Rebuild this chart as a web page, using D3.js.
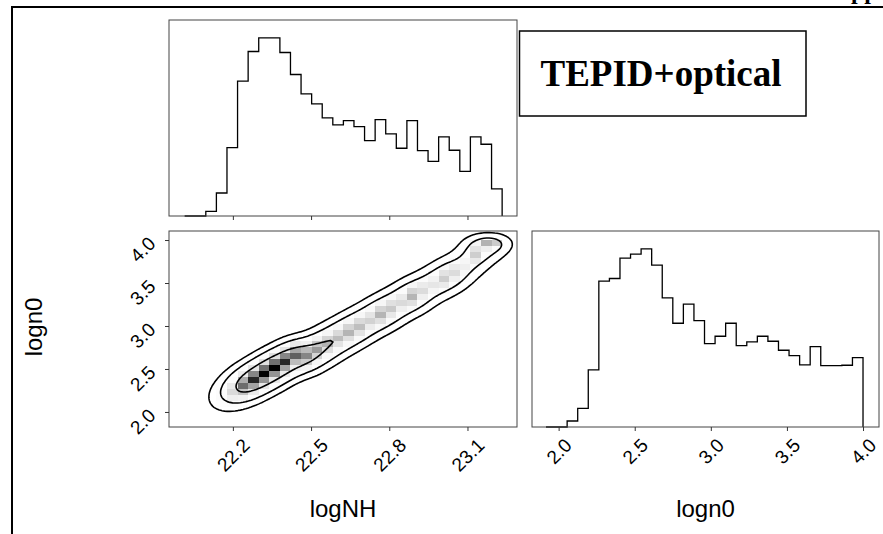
<!DOCTYPE html>
<meta charset="utf-8">
<script src="https://d3js.org/d3.v7.min.js"></script>
<style>
  body { margin: 0; background: #fff; }
  text { font-family: "Liberation Sans", Arial, sans-serif; }
</style>
<svg id="corner" width="883" height="534"></svg>
<script>
// logNH marginal, 30 bins
const nhRange = [22.015, 23.233];
const nhCounts = [0, 0, 14, 69, 205, 404, 493, 534, 534, 490, 424, 366, 336, 294, 273,
                  286, 268, 226, 289, 246, 203, 286, 196, 164, 237, 197, 134, 237, 215, 81];
// logn0 marginal, 30 bins
const n0Range = [1.917, 4.0];
const n0Counts = [0, 0, 18, 56, 171, 437, 445, 506, 518, 534, 485, 387, 311, 368, 319,
                  250, 272, 311, 244, 255, 272, 257, 230, 214, 186, 241, 184, 184, 185, 208];
const nhTicks = [22.2, 22.5, 22.8, 23.1];
const n0Ticks = [2.0, 2.5, 3.0, 3.5, 4.0];
const nhDomain = [21.955, 23.29];
const n0Domain = [1.825, 4.105];
// joint histogram, one entry per logNH bin: first logn0 bin, then densities
// (relative to the darkest cell) going up in logn0
const jointStart = [0, 0, 0, 0, 1, 2, 3, 4, 5, 6, 7, 7, 8, 9, 10,
                    11, 12, 13, 14, 15, 16, 17, 18, 19, 20, 21, 22, 24, 26, 26];
const jointValues = [
  [], [],
  [0.01, 0.02, 0.03, 0.02, 0.01],
  [0.01, 0.04, 0.08, 0.13, 0.10, 0.05, 0.01],
  [0.04, 0.11, 0.25, 0.38, 0.29, 0.13, 0.04],
  [0.08, 0.23, 0.49, 0.76, 0.57, 0.27, 0.08],
  [0.09, 0.28, 0.60, 0.92, 0.69, 0.32, 0.09],
  [0.10, 0.30, 0.65, 1.00, 0.75, 0.35, 0.10],
  [0.10, 0.30, 0.65, 1.00, 0.75, 0.35, 0.10],
  [0.09, 0.28, 0.60, 0.92, 0.69, 0.32, 0.09],
  [0.08, 0.24, 0.51, 0.79, 0.59, 0.28, 0.08],
  [0.07, 0.21, 0.45, 0.69, 0.52, 0.24, 0.07],
  [0.06, 0.19, 0.41, 0.63, 0.47, 0.22, 0.06],
  [0.06, 0.17, 0.36, 0.55, 0.41, 0.19, 0.06],
  [0.05, 0.15, 0.33, 0.51, 0.38, 0.18, 0.05],
  [0.05, 0.16, 0.35, 0.54, 0.41, 0.19, 0.05],
  [0.05, 0.15, 0.33, 0.50, 0.38, 0.18, 0.05],
  [0.04, 0.13, 0.27, 0.42, 0.32, 0.15, 0.04],
  [0.05, 0.16, 0.35, 0.54, 0.41, 0.19, 0.05],
  [0.05, 0.14, 0.30, 0.46, 0.35, 0.16, 0.05],
  [0.04, 0.11, 0.25, 0.38, 0.29, 0.13, 0.04],
  [0.05, 0.16, 0.35, 0.54, 0.41, 0.19, 0.05],
  [0.04, 0.11, 0.24, 0.37, 0.28, 0.13, 0.04],
  [0.03, 0.09, 0.20, 0.31, 0.23, 0.11, 0.03],
  [0.04, 0.13, 0.29, 0.44, 0.33, 0.15, 0.04],
  [0.04, 0.11, 0.24, 0.37, 0.28, 0.13, 0.04],
  [0.03, 0.08, 0.16, 0.25, 0.19, 0.09, 0.03],
  [0.04, 0.13, 0.29, 0.44, 0.33, 0.20],
  [0.04, 0.12, 0.26, 0.55],
  [0.02, 0.05, 0.12, 0.45]
];
// contour levels, as fractions of the peak of the smoothed density
const contourLevels = [0.055, 0.19, 0.55];
const label = "TEPID+optical";

const svg = d3.select("#corner");
const nBins = 30;
const bwx = (nhRange[1] - nhRange[0]) / nBins;
const bwy = (n0Range[1] - n0Range[0]) / nBins;

// flatten to [ix, iy, density]
const cells2d = [];
jointValues.forEach((col, ix) => col.forEach((v, k) => cells2d.push([ix, jointStart[ix] + k, v])));

// panel boxes
const pTop = {x0: 169, x1: 517, y0: 20, y1: 216};
const pMid = {x0: 169, x1: 517, y0: 231, y1: 427};
const pRgt = {x0: 532, x1: 879, y0: 231, y1: 427};

const xNH = d3.scaleLinear().domain(nhDomain).range([pTop.x0, pTop.x1]);
const yTop = d3.scaleLinear().domain([0, 1.1 * d3.max(nhCounts)]).range([pTop.y1, pTop.y0]);
const yN0 = d3.scaleLinear().domain(n0Domain).range([pMid.y1, pMid.y0]);
const xN0 = d3.scaleLinear().domain(n0Domain).range([pRgt.x0, pRgt.x1]);
const yRgt = d3.scaleLinear().domain([0, 1.1 * d3.max(n0Counts)]).range([pRgt.y1, pRgt.y0]);

function stepPath(counts, range, xs, ys) {
  const w = (range[1] - range[0]) / counts.length;
  const pts = [[range[0], 0]];
  counts.forEach((c, i) => pts.push([range[0] + i * w, c]));
  pts.push([range[1], counts[counts.length - 1]], [range[1], 0]);
  return d3.line().x(d => xs(d[0])).y(d => ys(d[1])).curve(d3.curveStepAfter)(pts);
}

function frame(p) {
  svg.append("rect")
    .attr("x", p.x0).attr("y", p.y0)
    .attr("width", p.x1 - p.x0).attr("height", p.y1 - p.y0)
    .attr("fill", "none").attr("stroke", "#444").attr("stroke-width", 1);
}

function styleTicks(g) {
  g.select(".domain").remove();
  g.selectAll(".tick line").attr("stroke", "#333");
}

// rotated 45deg labels under an x axis (top of ink at labelTop)
function rotateX(g, labelTop) {
  g.selectAll(".tick text").each(function() {
    const t = d3.select(this).attr("y", null).attr("dy", null)
      .attr("text-anchor", "middle").attr("dominant-baseline", "central")
      .attr("font-size", 19).attr("fill", "#000");
    const half = (this.getComputedTextLength() + 14) / (2 * Math.SQRT2);
    t.attr("transform", `translate(0,${labelTop + half}) rotate(-45)`);
  });
}

// ---- top: logNH histogram
svg.append("path")
  .attr("d", stepPath(nhCounts, nhRange, xNH, yTop))
  .attr("fill", "none").attr("stroke", "#000").attr("stroke-width", 1.3);
frame(pTop);
svg.append("g").attr("transform", `translate(0,${pTop.y1})`)
  .call(d3.axisBottom(xNH).tickValues(nhTicks).tickSize(4).tickFormat(""))
  .call(styleTicks);

// ---- middle: joint density
svg.append("clipPath").attr("id", "midclip").append("rect")
  .attr("x", pMid.x0).attr("y", pMid.y0).attr("width", pMid.x1 - pMid.x0).attr("height", pMid.y1 - pMid.y0);

const gMid = svg.append("g").attr("clip-path", "url(#midclip)");
gMid.selectAll("rect.cell")
  .data(cells2d)
  .join("rect")
  .attr("class", "cell")
  .attr("x", d => xNH(nhRange[0] + d[0] * bwx))
  .attr("width", d => xNH(nhRange[0] + (d[0] + 1) * bwx) - xNH(nhRange[0] + d[0] * bwx))
  .attr("y", d => yN0(n0Range[0] + (d[1] + 1) * bwy))
  .attr("height", d => yN0(n0Range[0] + d[1] * bwy) - yN0(n0Range[0] + (d[1] + 1) * bwy))
  .attr("shape-rendering", "crispEdges")
  .attr("fill", d => { const g = Math.round(255 * (1 - d[2] * d[2])); return `rgb(${g},${g},${g})`; });

// smoothed density on a fine grid (bin units) for the contours
const smooth = 1.0, step = 0.25;
const uMin = (nhDomain[0] - nhRange[0]) / bwx, uMax = (nhDomain[1] - nhRange[0]) / bwx;
const wMin = (n0Domain[0] - n0Range[0]) / bwy, wMax = (n0Domain[1] - n0Range[0]) / bwy;
const nx = Math.ceil((uMax - uMin) / step) + 1, ny = Math.ceil((wMax - wMin) / step) + 1;
const field = new Float64Array(nx * ny);
for (let j = 0; j < ny; j++) {
  const w = wMin + j * step;
  for (let i = 0; i < nx; i++) {
    const u = uMin + i * step;
    let s = 0;
    for (const c of cells2d) {
      const du = u - (c[0] + 0.5), dw = w - (c[1] + 0.5);
      s += c[2] * Math.exp(-(du * du + dw * dw) / (2 * smooth * smooth));
    }
    field[j * nx + i] = s;
  }
}
const fieldMax = d3.max(field);
const thresholds = contourLevels.map(l => l * fieldMax);

const gridPath = d3.geoPath(d3.geoTransform({
  point(x, y) {
    this.stream.point(
      xNH(nhRange[0] + (uMin + (x - 0.5) * step) * bwx),
      yN0(n0Range[0] + (wMin + (y - 0.5) * step) * bwy));
  }
}));
gMid.selectAll("path.contour")
  .data(d3.contours().size([nx, ny]).thresholds(thresholds)(field))
  .join("path")
  .attr("class", "contour")
  .attr("d", gridPath)
  .attr("fill", "none").attr("stroke", "#000").attr("stroke-width", 1.6)
  .attr("stroke-linejoin", "round");

frame(pMid);
svg.append("g").attr("transform", `translate(0,${pMid.y1})`)
  .call(d3.axisBottom(xNH).tickValues(nhTicks).tickSize(4).tickPadding(0).tickFormat(d3.format(".1f")))
  .call(styleTicks)
  .call(g => rotateX(g, 437 - pMid.y1));
svg.append("g").attr("transform", `translate(${pMid.x0},0)`)
  .call(d3.axisLeft(yN0).tickValues(n0Ticks).tickSize(4).tickFormat(d3.format(".1f")))
  .call(styleTicks)
  .call(g => g.selectAll(".tick text").each(function() {
    const t = d3.select(this).attr("x", null).attr("dy", null)
      .attr("text-anchor", "middle").attr("dominant-baseline", "central")
      .attr("font-size", 19).attr("fill", "#000");
    const half = (this.getComputedTextLength() + 14) / (2 * Math.SQRT2);
    t.attr("transform", `translate(${-12 - half},9) rotate(-45)`);
  }));

// ---- right: logn0 histogram
svg.append("path")
  .attr("d", stepPath(n0Counts, n0Range, xN0, yRgt))
  .attr("fill", "none").attr("stroke", "#000").attr("stroke-width", 1.3);
frame(pRgt);
svg.append("g").attr("transform", `translate(0,${pRgt.y1})`)
  .call(d3.axisBottom(xN0).tickValues(n0Ticks).tickSize(4).tickPadding(0).tickFormat(d3.format(".1f")))
  .call(styleTicks)
  .call(g => rotateX(g, 437 - pRgt.y1));

// ---- axis titles
svg.append("text").attr("x", (pMid.x0 + pMid.x1) / 2).attr("y", 517)
  .attr("text-anchor", "middle").attr("font-size", 24).text("logNH");
svg.append("text").attr("x", (pRgt.x0 + pRgt.x1) / 2).attr("y", 517)
  .attr("text-anchor", "middle").attr("font-size", 24).text("logn0");
svg.append("text").attr("transform", "translate(42,327) rotate(-90)")
  .attr("text-anchor", "middle").attr("font-size", 24).text("logn0");

// ---- label box
svg.append("rect").attr("x", 519.5).attr("y", 31).attr("width", 286.5).attr("height", 85)
  .attr("fill", "#fff").attr("stroke", "#000").attr("stroke-width", 1.5);
svg.append("text").attr("x", 661).attr("y", 86).attr("text-anchor", "middle")
  .style("font-family", "'Liberation Serif', 'Times New Roman', serif")
  .attr("font-weight", "bold").attr("font-size", 37).text(label);

// ---- page border and clipped text above it
svg.append("line").attr("x1", 12).attr("x2", 883).attr("y1", 7).attr("y2", 7)
  .attr("stroke", "#000").attr("stroke-width", 2);
svg.append("line").attr("x1", 12).attr("x2", 12).attr("y1", 6).attr("y2", 534)
  .attr("stroke", "#000").attr("stroke-width", 2);
svg.append("text").attr("x", 851).attr("y", -1)
  .style("font-family", "'Liberation Serif', serif").attr("font-weight", "bold")
  .attr("font-size", 24).text("pp");
</script>
